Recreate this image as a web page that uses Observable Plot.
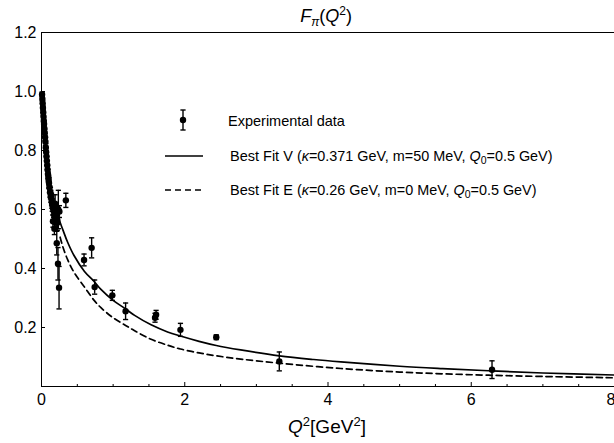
<!DOCTYPE html>
<html><head><meta charset="utf-8">
<script src="https://cdn.jsdelivr.net/npm/d3@7"></script>
<script src="https://cdn.jsdelivr.net/npm/@observablehq/plot@0.6"></script>
<style>body{margin:0;background:#fff} svg{display:block}</style>
</head><body><div id="chart"></div>
<script>
// Experimental data: Q^2 [GeV^2], F_pi, error
const expQ = [0.008,0.012,0.016,0.02,0.024,0.028,0.032,0.036,0.04,0.045,0.05,0.055,0.06,0.065,0.07,0.075,0.08,0.085,0.09,0.095,0.1,0.105,0.11,0.12,0.125,0.13,0.14,0.145,0.15,0.16,0.17,0.18,0.19,0.2,0.22,
  0.16,0.18,0.17,0.2,0.22,0.19,
  0.213,0.23,0.245,0.235,0.25,0.34,
  0.594,0.70,0.742,0.989,1.174,1.585,1.6,1.94,2.44,3.32,6.29];
const expF = [0.99,0.975,0.96,0.945,0.93,0.915,0.90,0.89,0.875,0.86,0.845,0.83,0.81,0.795,0.78,0.765,0.75,0.735,0.72,0.71,0.70,0.69,0.675,0.66,0.655,0.645,0.635,0.625,0.615,0.605,0.595,0.585,0.575,0.565,0.555,
  0.56,0.535,0.60,0.58,0.565,0.62,
  0.486,0.416,0.335,0.60,0.593,0.631,
  0.429,0.47,0.337,0.309,0.255,0.233,0.243,0.192,0.167,0.085,0.057];
const expErr = [0.008,0.008,0.009,0.009,0.01,0.01,0.01,0.011,0.011,0.012,0.012,0.013,0.013,0.014,0.014,0.015,0.015,0.016,0.016,0.017,0.017,0.018,0.018,0.019,0.019,0.02,0.02,0.021,0.021,0.022,0.022,0.023,0.024,0.025,0.026,
  0.02,0.02,0.025,0.03,0.03,0.03,
  0.04,0.055,0.072,0.065,0.02,0.024,
  0.02,0.034,0.024,0.017,0.028,0.015,0.015,0.022,0.008,0.032,0.03];

// Best Fit V (solid)
const fitVQ = [0.234,0.3,0.365,0.454,0.6,0.735,0.83,1.0,1.174,1.3,1.53,1.76,1.94,2.2,2.44,2.78,3.32,3.8,4.18,5.0,5.6,6.28,7.0,8.0];
const fitVF = [0.574,0.53,0.489,0.444,0.39,0.356,0.329,0.292,0.263,0.241,0.209,0.185,0.171,0.153,0.139,0.124,0.104,0.0915,0.0835,0.0686,0.0606,0.053,0.0458,0.039];
// Best Fit E (dashed)
const fitEQ = [0.26,0.3,0.365,0.454,0.6,0.735,0.83,1.0,1.174,1.3,1.53,1.76,1.94,2.2,2.44,2.78,3.32,4.18,5.0,5.6,6.28,7.0,8.0];
const fitEF = [0.506,0.472,0.43,0.387,0.337,0.292,0.267,0.233,0.207,0.189,0.16,0.14,0.127,0.114,0.104,0.093,0.079,0.061,0.049,0.043,0.038,0.034,0.0295];

// Ticks
const xMajor = [0,2,4,6,8];
const xLabelsInner = [0,2,4,6];
const xLabelsEdge = [8];
const xMinor = [0.5,1,1.5,2.5,3,3.5,4.5,5,5.5,6.5,7,7.5];
const yMajor = [0.2,0.4,0.6,0.8,1.0,1.2];

const data = expQ.map((q,i)=>({q, f: expF[i], e: expErr[i]}));
const lineV = fitVQ.map((q,i)=>({q, f: fitVF[i]}));
const lineE = fitEQ.map((q,i)=>({q, f: fitEF[i]}));

const cap = {draw(ctx, size){ const r = Math.sqrt(size/Math.PI); ctx.moveTo(-r,0); ctx.lineTo(r,0);} };
const FONT = "'Liberation Sans', Arial, Helvetica, sans-serif";

const plot = Plot.plot({
  width: 614, height: 443,
  marginTop: 32, marginLeft: 41, marginRight: 0, marginBottom: 57,
  x: {domain: [0,8]},
  y: {domain: [0,1.2]},
  style: {fontFamily: FONT, fontSize: "16px", color: "black", background: "white", overflow: "visible"},
  marks: [
    Plot.axisX({ticks: xLabelsInner, tickSize: 0, tickPadding: 7, tickFormat: d => String(d), label: null, fontSize: 16}),
    Plot.axisX({ticks: xLabelsEdge, tickSize: 0, tickPadding: 7, tickFormat: d => String(d), label: null, fontSize: 16, textAnchor: "end", dx: 1}),
    Plot.axisX({ticks: xMajor, tickSize: -4, fill: "none", label: null}),
    Plot.axisX({ticks: xMinor, tickSize: -2, fill: "none", label: null}),
    Plot.axisY({ticks: yMajor, tickSize: 0, tickPadding: 5, tickFormat: d3.format(".1f"), label: null, fontSize: 16}),
    Plot.axisY({ticks: yMajor, tickSize: -4, fill: "none", label: null}),
    Plot.line(lineV, {x: "q", y: "f", curve: "catmull-rom", stroke: "black", strokeWidth: 1.7}),
    Plot.line(lineE, {x: "q", y: "f", curve: "catmull-rom", stroke: "black", strokeWidth: 1.7, strokeDasharray: "6,4"}),
    Plot.ruleX(data, {x: "q", y1: d => d.f - d.e, y2: d => d.f + d.e, stroke: "black", strokeWidth: 1.4}),
    Plot.dot(data, {x: "q", y: d => d.f + d.e, symbol: cap, r: 2.6, stroke: "black", strokeWidth: 1.4}),
    Plot.dot(data, {x: "q", y: d => d.f - d.e, symbol: cap, r: 2.6, stroke: "black", strokeWidth: 1.4}),
    Plot.dot(data, {x: "q", y: "f", r: 3.2, fill: "black", stroke: "none"}),
    Plot.frame({stroke: "black", strokeWidth: 1})
  ]
});
document.getElementById("chart").append(plot);

const svg = d3.select(plot);
// Title
const t = svg.append("text").attr("x", 326).attr("y", 22).attr("text-anchor", "middle")
  .attr("font-family", FONT).attr("font-size", 18).attr("fill", "black");
t.append("tspan").attr("font-style", "italic").text("F");
t.append("tspan").attr("font-style", "italic").attr("font-size", 12).attr("dy", 4).text("π");
t.append("tspan").attr("dy", -4).text("(");
t.append("tspan").attr("font-style", "italic").text("Q");
t.append("tspan").attr("font-size", 12).attr("dy", -7).text("2");
t.append("tspan").attr("dy", 7).text(")");

// X label
const xl = svg.append("text").attr("x", 327).attr("y", 433).attr("text-anchor", "middle")
  .attr("font-family", FONT).attr("font-size", 19).attr("fill", "black");
xl.append("tspan").attr("font-style", "italic").text("Q");
xl.append("tspan").attr("font-size", 13).attr("dy", -7).text("2");
xl.append("tspan").attr("dy", 7).text("[GeV");
xl.append("tspan").attr("font-size", 13).attr("dy", -7).text("2");
xl.append("tspan").attr("dy", 7).text("]");

// Legend
const lg = svg.append("g").attr("font-family", FONT).attr("fill", "black").attr("text-anchor", "start");
lg.append("line").attr("x1", 183).attr("x2", 183).attr("y1", 110).attr("y2", 130).attr("stroke", "black").attr("stroke-width", 1.4);
lg.append("line").attr("x1", 180.4).attr("x2", 185.6).attr("y1", 110).attr("y2", 110).attr("stroke", "black").attr("stroke-width", 1.4);
lg.append("line").attr("x1", 180.4).attr("x2", 185.6).attr("y1", 130).attr("y2", 130).attr("stroke", "black").attr("stroke-width", 1.4);
lg.append("circle").attr("cx", 183).attr("cy", 120).attr("r", 3.2).attr("fill", "black");
lg.append("text").attr("x", 228).attr("y", 125.5).attr("font-size", 14.5).attr("text-anchor", "start").text("Experimental data");

lg.append("line").attr("x1", 165).attr("x2", 203).attr("y1", 156).attr("y2", 156).attr("stroke", "black").attr("stroke-width", 1.7);
lg.append("line").attr("x1", 165).attr("x2", 203).attr("y1", 190).attr("y2", 190).attr("stroke", "black").attr("stroke-width", 1.7).attr("stroke-dasharray", "6,4");

function fitText(y, name, kappa, m) {
  const tx = lg.append("text").attr("x", 230).attr("y", y).attr("font-size", 14.5).attr("text-anchor", "start");
  tx.append("tspan").text(name + " ");
  const p = tx.append("tspan").attr("font-size", 14.4);
  p.append("tspan").text("(");
  p.append("tspan").attr("font-style", "italic").text("κ");
  p.append("tspan").text("=" + kappa + " GeV, m=" + m + " MeV, ");
  p.append("tspan").attr("font-style", "italic").text("Q");
  p.append("tspan").attr("font-size", 10.5).attr("dy", 3).text("0");
  p.append("tspan").attr("dy", -3).text("=0.5 GeV)");
}
fitText(161, "Best Fit V", "0.371", "50");
fitText(195, "Best Fit E", "0.26", "0");
</script>
</body></html>
